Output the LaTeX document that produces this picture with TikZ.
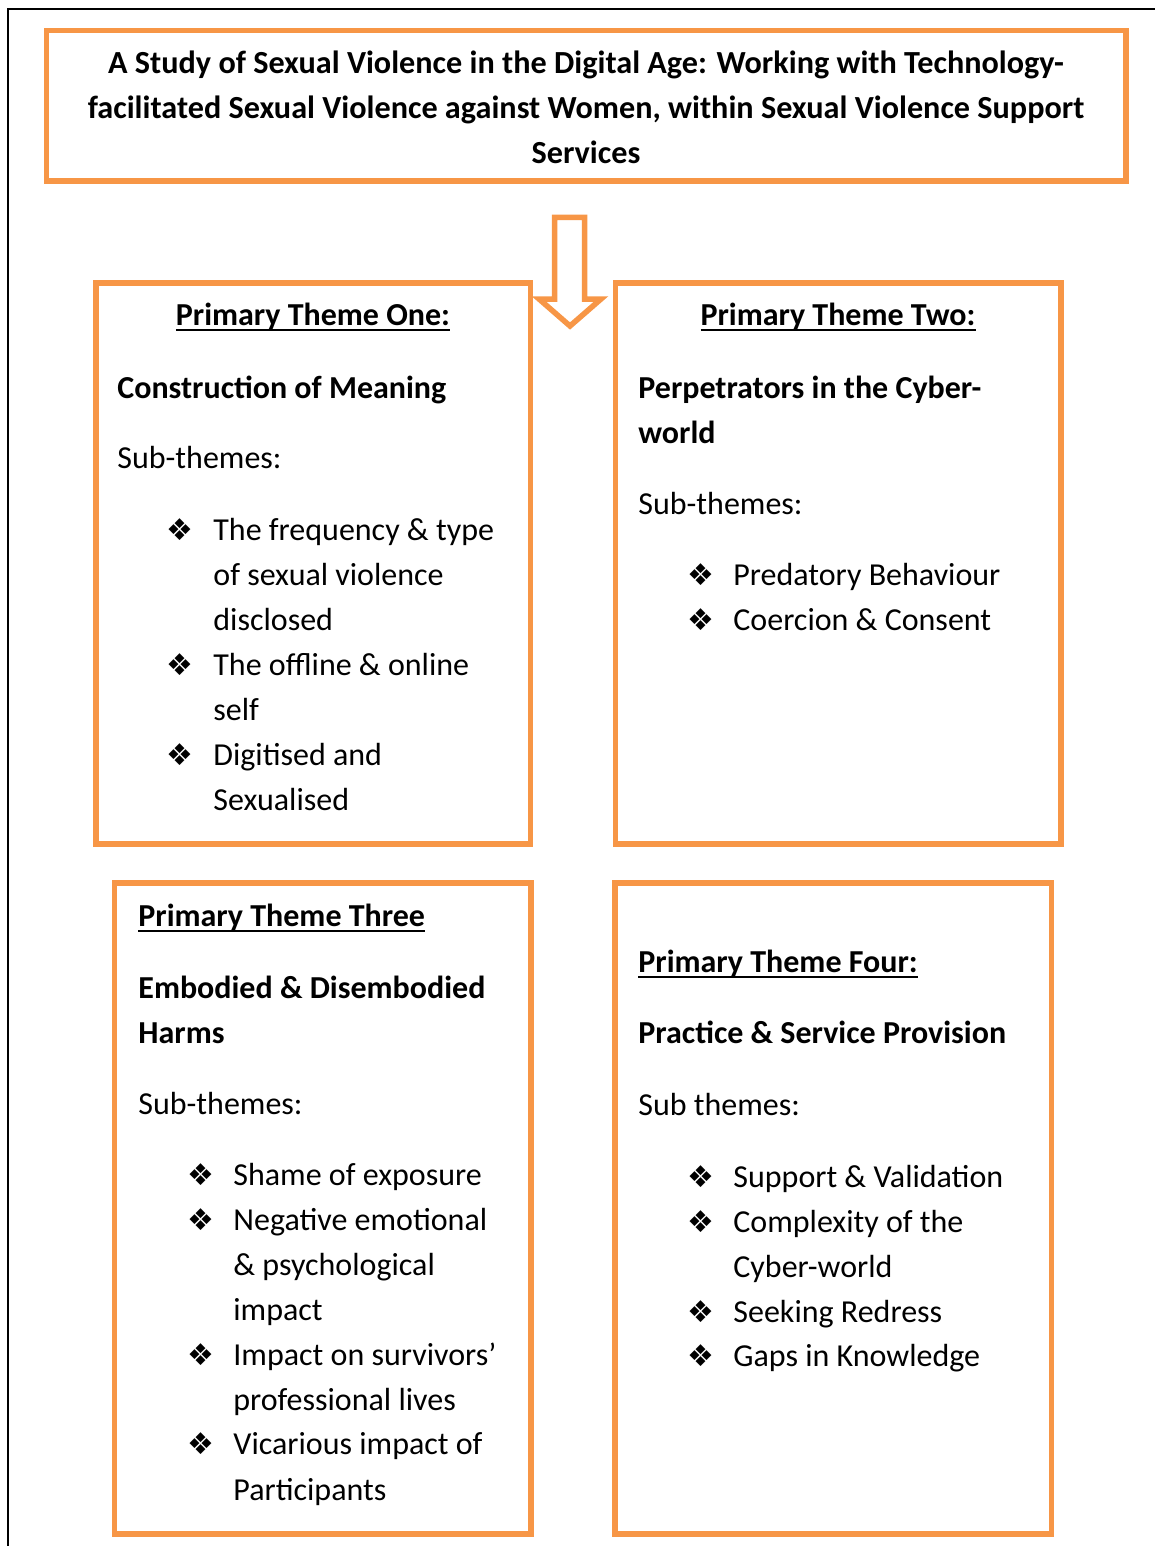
\documentclass[tikz,border=0pt]{standalone}
\usepackage{fontspec}
\setmainfont{Carlito}
\newfontfamily\dingfont{DejaVu Sans}
\definecolor{themeorange}{RGB}{247,150,70}
\newcommand{\thmul}[1]{\setbox0\hbox{#1}\rlap{\rule[-3pt]{\wd0}{1.2pt}}\box0}
\tikzset{
  themebox/.style={draw=themeorange, line width=2.75pt},
  txt/.style={anchor=base west, inner sep=0pt, font=\fontsize{16}{20}\selectfont},
  ctxt/.style={anchor=base, inner sep=0pt, font=\fontsize{16}{20}\selectfont},
  ttl/.style={anchor=base, inner sep=0pt, font=\fontsize{16.1}{20}\selectfont\bfseries},
  bul/.style={anchor=base west, inner sep=0pt, font=\fontsize{15}{20}\dingfont}
}
\begin{document}
\begin{tikzpicture}[x=0.5pt,y=0.5pt,yscale=-1,xscale=1]
\useasboundingbox (0,0) rectangle (1155,1546);
%Page frame
\draw [line width=1pt] (8.3,1546) -- (8.3,9.5) -- (1155,9.5) ;
%Shape: Rectangle [title]
\draw [themebox] (46.5,30.5) rectangle (1126,181) ;
%Shape: Down Arrow
\draw [themebox, fill=white, line join=miter] (554.5,217.5) -- (584.5,217.5) -- (584.5,299) -- (601,299) -- (570,326) -- (539,299) -- (554.5,299) -- cycle ;
%Shape: Rectangle [theme one]
\draw [themebox] (96,283) rectangle (530.5,844) ;
%Shape: Rectangle [theme two]
\draw [themebox] (615.5,283) rectangle (1061,844) ;
%Shape: Rectangle [theme three]
\draw [themebox] (114.5,883) rectangle (531,1534) ;
%Shape: Rectangle [theme four]
\draw [themebox] (615,883) rectangle (1051.5,1534) ;

% Text Node
\draw (586,74) node [ttl] (ttlA) {A Study of Sexual Violence in the Digital Age: Working with Technology-};
\draw (586,119) node [ttl] (ttlB) {facilitated Sexual Violence against Women, within Sexual Violence Support};
\draw (586,164) node [ttl] (ttlC) {Services};

% Text Node: theme one
\draw (313,325) node [ctxt] (oneHead) {\thmul{\textbf{Primary Theme One:}}};
\draw (117,398) node [txt] (oneName) {\textbf{Construction of Meaning}};
\draw (117,468) node [txt] (oneSub) {Sub-themes:};
\draw (166,540) node [bul] (oneB1) {❖};
\draw (213,540) node [txt] (oneL1) {The frequency \& type};
\draw (213,585) node [txt] (oneL2) {of sexual violence};
\draw (213,630) node [txt] (oneL3) {disclosed};
\draw (166,675) node [bul] (oneB2) {❖};
\draw (213,675) node [txt] (oneL4) {The offline \& online};
\draw (213,720) node [txt] (oneL5) {self};
\draw (166,765) node [bul] (oneB3) {❖};
\draw (213,765) node [txt] (oneL6) {Digitised and};
\draw (213,810) node [txt] (oneL7) {Sexualised};

% Text Node: theme two
\draw (838,325) node [ctxt] (twoHead) {\thmul{\textbf{Primary Theme Two:}}};
\draw (638,398) node [txt] (twoName) {\textbf{Perpetrators in the Cyber-}};
\draw (638,443) node [txt] (twoNameB) {\textbf{world}};
\draw (638,514) node [txt] (twoSub) {Sub-themes:};
\draw (687,585) node [bul] (twoB1) {❖};
\draw (733,585) node [txt] (twoL1) {Predatory Behaviour};
\draw (687,630) node [bul] (twoB2) {❖};
\draw (733,630) node [txt] (twoL2) {Coercion \& Consent};

% Text Node: theme three
\draw (138,926) node [txt] (threeHead) {\thmul{\textbf{Primary Theme Three}}};
\draw (138,998) node [txt] (threeName) {\textbf{Embodied \& Disembodied}};
\draw (138,1043) node [txt] (threeNameB) {\textbf{Harms}};
\draw (138,1114) node [txt] (threeSub) {Sub-themes:};
\draw (187,1185) node [bul] (threeB1) {❖};
\draw (233,1185) node [txt] (threeL1) {Shame of exposure};
\draw (187,1230) node [bul] (threeB2) {❖};
\draw (233,1230) node [txt] (threeL2) {Negative emotional};
\draw (233,1275) node [txt] (threeL3) {\& psychological};
\draw (233,1320) node [txt] (threeL4) {impact};
\draw (187,1365) node [bul] (threeB3) {❖};
\draw (233,1365) node [txt] (threeL5) {Impact on survivors’};
\draw (233,1410) node [txt] (threeL6) {professional lives};
\draw (187,1454) node [bul] (threeB4) {❖};
\draw (233,1454) node [txt] (threeL7) {Vicarious impact of};
\draw (233,1500) node [txt] (threeL8) {Participants};

% Text Node: theme four
\draw (638,972) node [txt] (fourHead) {\thmul{\textbf{Primary Theme Four:}}};
\draw (638,1043) node [txt] (fourName) {\textbf{Practice \& Service Provision}};
\draw (638,1115) node [txt] (fourSub) {Sub themes:};
\draw (687,1187) node [bul] (fourB1) {❖};
\draw (733,1187) node [txt] (fourL1) {Support \& Validation};
\draw (687,1232) node [bul] (fourB2) {❖};
\draw (733,1232) node [txt] (fourL2) {Complexity of the};
\draw (733,1277) node [txt] (fourL3) {Cyber-world};
\draw (687,1322) node [bul] (fourB3) {❖};
\draw (733,1322) node [txt] (fourL4) {Seeking Redress};
\draw (687,1366) node [bul] (fourB4) {❖};
\draw (733,1366) node [txt] (fourL5) {Gaps in Knowledge};

\end{tikzpicture}
\end{document}
